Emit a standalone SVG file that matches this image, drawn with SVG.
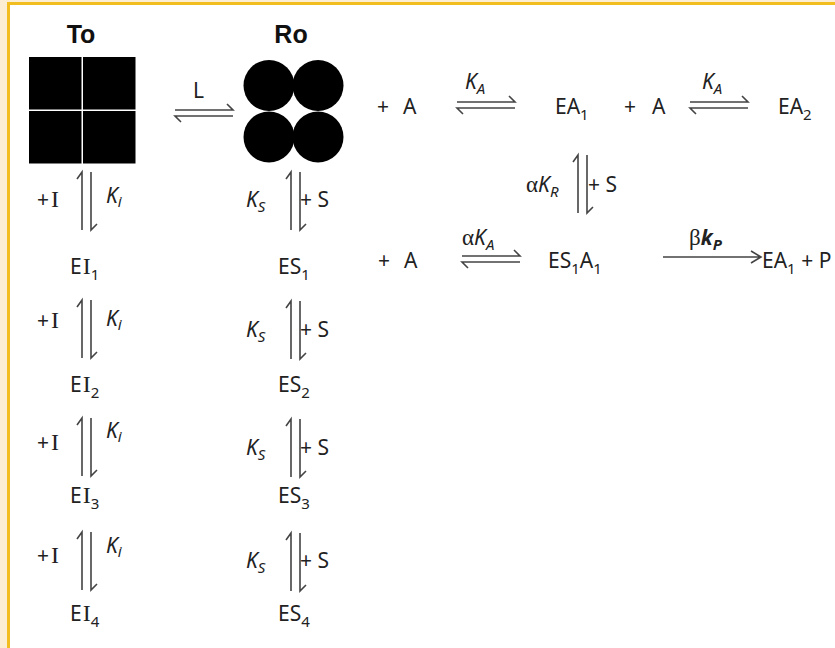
<svg xmlns="http://www.w3.org/2000/svg" xmlns:xlink="http://www.w3.org/1999/xlink" width="835" height="648" viewBox="0 0 835 648">
<style>
.t{font-family:"Noto Sans","Liberation Sans",sans-serif;font-size:21px;fill:#222}
.b{font-family:"Liberation Sans",Arial,sans-serif;font-size:25px;font-weight:bold;fill:#111}
.it{font-style:italic}
.s{font-size:15px}
.ser{font-family:"Liberation Serif",serif}
.ci{font-family:"Liberation Serif",serif;font-size:24px}
.h{stroke:#444;stroke-width:1.6;fill:none}
</style>
<defs>
<g id="vp" class="h"><path d="M0,58 V0 L-5,7"/><path d="M9,0 V58 L15,52"/></g>
<g id="hp" class="h"><path d="M0,0 H58 L52,-6"/><path d="M58,6 H0 L6,12"/></g>
</defs>
<rect x="0" y="0" width="835" height="648" fill="#ffffff"/>
<rect x="0" y="0" width="835" height="2" fill="#fbeed3"/>
<rect x="0" y="0" width="7" height="648" fill="#fbeed3"/>
<rect x="7" y="2" width="828" height="3" fill="#f2bd1f"/>
<rect x="7" y="2" width="3" height="646" fill="#f2bd1f"/>

<g id="To">
<text class="b" x="81" y="43" text-anchor="middle">To</text>
<rect x="29" y="57" width="52.5" height="52.5" fill="#000"/>
<rect x="83" y="57" width="52.5" height="52.5" fill="#000"/>
<rect x="29" y="111" width="52.5" height="52.5" fill="#000"/>
<rect x="83" y="111" width="52.5" height="52.5" fill="#000"/>
</g>
<g id="Ro">
<text class="b" x="291" y="43" text-anchor="middle">Ro</text>
<circle cx="269" cy="85.5" r="25.5" fill="#000"/>
<circle cx="318" cy="85.5" r="25.5" fill="#000"/>
<circle cx="269" cy="137" r="25.5" fill="#000"/>
<circle cx="318" cy="137" r="25.5" fill="#000"/>
</g>
<g id="A1"><text class="t" x="377" y="114">+<tspan x="403">A</tspan></text></g>
<g id="EA1"><text class="t" x="555" y="114">EA<tspan class="s" dy="6">1</tspan></text></g>
<g id="A2"><text class="t" x="624" y="114">+<tspan x="652">A</tspan></text></g>
<g id="EA2"><text class="t" x="778" y="114">EA<tspan class="s" dy="6">2</tspan></text></g>
<g id="A3"><text class="t" x="378" y="268">+<tspan x="404">A</tspan></text></g>
<g id="ES1A1"><text class="t" x="548" y="268">ES<tspan class="s" dy="6">1</tspan><tspan dy="-6">A</tspan><tspan class="s" dy="6">1</tspan></text></g>
<g id="EA1P"><text class="t" x="762" y="268">EA<tspan class="s" dy="6">1</tspan><tspan dy="-6"> + P</tspan></text></g>

<g id="EI1"><text class="t" x="70" y="274">E<tspan class="ci" dx="1">I</tspan><tspan class="s" dy="6">1</tspan></text></g>
<g id="EI2"><text class="t" x="70" y="392">E<tspan class="ci" dx="1">I</tspan><tspan class="s" dy="6">2</tspan></text></g>
<g id="EI3"><text class="t" x="70" y="503">E<tspan class="ci" dx="1">I</tspan><tspan class="s" dy="6">3</tspan></text></g>
<g id="EI4"><text class="t" x="70" y="621">E<tspan class="ci" dx="1">I</tspan><tspan class="s" dy="6">4</tspan></text></g>
<g id="ES1"><text class="t" x="278" y="274">ES<tspan class="s" dy="6">1</tspan></text></g>
<g id="ES2"><text class="t" x="278" y="392">ES<tspan class="s" dy="6">2</tspan></text></g>
<g id="ES3"><text class="t" x="278" y="503">ES<tspan class="s" dy="6">3</tspan></text></g>
<g id="ES4"><text class="t" x="278" y="621">ES<tspan class="s" dy="6">4</tspan></text></g>

<g id="connectors">
<use xlink:href="#hp" transform="translate(175,110)"/>
<text class="t" x="193" y="98">L</text>
<use xlink:href="#hp" transform="translate(457,102)"/>
<text class="t it" x="465" y="89">K<tspan class="s" dy="5">A</tspan></text>
<use xlink:href="#hp" transform="translate(690,102)"/>
<text class="t it" x="702" y="89">K<tspan class="s" dy="5">A</tspan></text>
<use xlink:href="#vp" transform="translate(578,155)"/>
<text class="t" x="526" y="192"><tspan class="ser" font-size="23">α</tspan><tspan class="it">K</tspan><tspan class="s it" dy="5">R</tspan></text>
<text class="t" x="588" y="192">+ S</text>
<use xlink:href="#hp" transform="translate(462,256)"/>
<text class="t" x="462" y="245"><tspan class="ser" font-size="23">α</tspan><tspan class="it">K</tspan><tspan class="s it" dy="5">A</tspan></text>
<path class="h" d="M663,257 H761 M751,251 L761,257 L751,263"/>
<text class="t" x="689" y="245"><tspan class="ser" font-size="23">β</tspan><tspan class="it" font-weight="bold">k</tspan><tspan class="s it" font-weight="bold" dy="5">P</tspan></text>

<use xlink:href="#vp" transform="translate(82,172)"/>
<use xlink:href="#vp" transform="translate(82,300)"/>
<use xlink:href="#vp" transform="translate(82,418)"/>
<use xlink:href="#vp" transform="translate(82,532)"/>
<text class="t" x="37" y="207">+<tspan class="ci" dx="2">I</tspan></text>
<text class="t" x="37" y="328">+<tspan class="ci" dx="2">I</tspan></text>
<text class="t" x="37" y="450">+<tspan class="ci" dx="2">I</tspan></text>
<text class="t" x="37" y="563">+<tspan class="ci" dx="2">I</tspan></text>
<text class="t it" x="106" y="203">K<tspan class="s" dy="4">i</tspan></text>
<text class="t it" x="106" y="326">K<tspan class="s" dy="4">i</tspan></text>
<text class="t it" x="106" y="438">K<tspan class="s" dy="4">i</tspan></text>
<text class="t it" x="106" y="553">K<tspan class="s" dy="4">i</tspan></text>

<use xlink:href="#vp" transform="translate(291,172)"/>
<use xlink:href="#vp" transform="translate(291,301)"/>
<use xlink:href="#vp" transform="translate(291,419)"/>
<use xlink:href="#vp" transform="translate(291,533)"/>
<text class="t it" x="246" y="207">K<tspan class="s" dy="5">S</tspan></text>
<text class="t it" x="246" y="337">K<tspan class="s" dy="5">S</tspan></text>
<text class="t it" x="246" y="455">K<tspan class="s" dy="5">S</tspan></text>
<text class="t it" x="246" y="568">K<tspan class="s" dy="5">S</tspan></text>
<text class="t" x="300" y="207">+ S</text>
<text class="t" x="300" y="337">+ S</text>
<text class="t" x="300" y="455">+ S</text>
<text class="t" x="300" y="568">+ S</text>
</g>
</svg>
